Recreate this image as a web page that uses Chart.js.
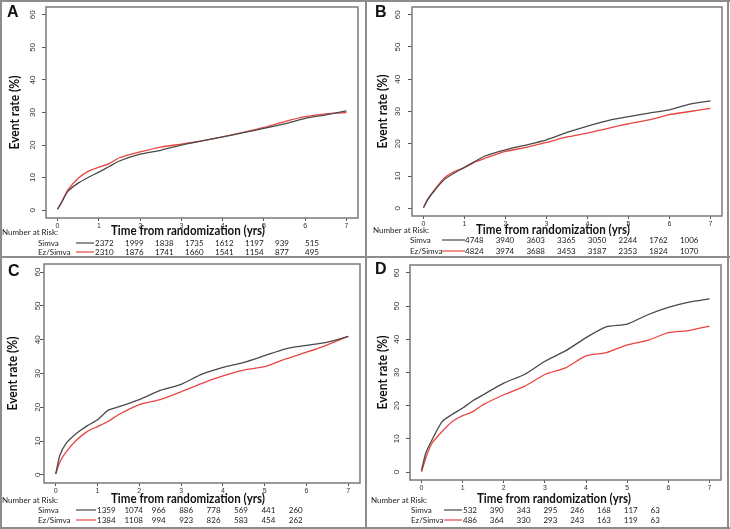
<!DOCTYPE html>
<html>
<head>
<meta charset="utf-8">
<script src="https://cdn.jsdelivr.net/npm/chart.js@4.4.0/dist/chart.umd.min.js"></script>
<style>
  body { margin: 0; background: #fff; }
  #wrap { position: relative; width: 730px; height: 529px; overflow: hidden; background: #fff; }
  #wrap canvas { position: absolute; }
  .frame { position: absolute; background: #8c8c8c; }
</style>
</head>
<body>
<div id="wrap">
  <canvas id="panelA" width="366" height="257" style="left:0;top:0"></canvas>
  <canvas id="panelB" width="364" height="257" style="left:366px;top:0"></canvas>
  <canvas id="panelC" width="366" height="272" style="left:0;top:257px"></canvas>
  <canvas id="panelD" width="364" height="272" style="left:366px;top:257px"></canvas>
  <div class="frame" style="left:0;top:0;width:730px;height:2px"></div>
  <div class="frame" style="left:0;top:527px;width:730px;height:2px"></div>
  <div class="frame" style="left:0;top:0;width:2px;height:529px"></div>
  <div class="frame" style="left:727px;top:0;width:2px;height:529px"></div>
  <div class="frame" style="left:365px;top:0;width:2px;height:529px"></div>
  <div class="frame" style="left:0;top:256px;width:730px;height:2px"></div>
</div>
<script>
const timeYrs = [0, 0.1, 0.25, 0.5, 0.75, 1, 1.25, 1.5, 2, 2.5, 3, 3.5, 4, 4.5, 5, 5.5, 6, 6.5, 7];

// event rate (%) per panel
const simvaA   = [0.3, 2.4, 5.8, 8.3, 10.1, 11.7, 13.4, 15.1, 17.2, 18.4, 20.0, 21.3, 22.5, 23.8, 25.1, 26.5, 28.2, 29.3, 30.5];
const ezSimvaA = [0.3, 2.6, 6.2, 9.8, 12.0, 13.2, 14.3, 16.1, 17.9, 19.4, 20.3, 21.3, 22.5, 23.9, 25.4, 27.2, 28.7, 29.6, 30.0];
const simvaB   = [0.2, 2.6, 5.2, 8.8, 10.9, 12.7, 14.5, 16.2, 18.1, 19.6, 21.2, 23.5, 25.5, 27.2, 28.4, 29.5, 30.5, 32.3, 33.3];
const ezSimvaB = [0.2, 2.8, 5.4, 9.3, 11.4, 12.6, 14.3, 15.5, 17.6, 18.9, 20.4, 22.1, 23.3, 24.8, 26.2, 27.4, 29.0, 30.0, 31.0];
const simvaC   = [0.3, 5.8, 9.3, 12.3, 14.5, 16.3, 19.1, 20.1, 22.3, 25.0, 26.8, 29.8, 31.8, 33.3, 35.3, 37.3, 38.3, 39.3, 41.0];
const ezSimvaC = [0.3, 3.8, 6.8, 10.3, 12.8, 14.3, 15.8, 17.8, 20.8, 22.3, 24.6, 27.1, 29.3, 31.0, 32.0, 34.3, 36.3, 38.5, 41.0];
const simvaD   = [0.5, 5.6, 9.6, 15.2, 17.4, 19.3, 21.5, 23.3, 26.8, 29.4, 33.4, 36.5, 40.5, 43.8, 44.6, 47.4, 49.6, 51.2, 52.2];
const ezSimvaD = [0.0, 4.1, 8.6, 12.2, 15.2, 17.0, 18.2, 20.3, 23.3, 25.8, 29.4, 31.4, 35.0, 36.0, 38.3, 39.7, 42.0, 42.6, 44.0];

// number at risk, years 0..7
const riskSimvaA   = [2372, 1999, 1838, 1735, 1612, 1197, 939, 515];
const riskEzSimvaA = [2310, 1876, 1741, 1660, 1541, 1154, 877, 495];
const riskSimvaB   = [4748, 3940, 3603, 3365, 3050, 2244, 1762, 1006];
const riskEzSimvaB = [4824, 3974, 3688, 3453, 3187, 2353, 1824, 1070];
const riskSimvaC   = [1359, 1074, 966, 886, 778, 569, 441, 260];
const riskEzSimvaC = [1384, 1108, 994, 923, 826, 583, 454, 262];
const riskSimvaD   = [532, 390, 343, 295, 246, 168, 117, 63];
const riskEzSimvaD = [486, 364, 330, 293, 243, 163, 119, 63];

const armLabels = ['Simva', 'Ez/Simva'];
const yTicks = [0, 10, 20, 30, 40, 50, 60];
const xTicks = [0, 1, 2, 3, 4, 5, 6, 7];
const yTitle = 'Event rate (%)';
const xTitle = 'Time from randomization (yrs)';
const riskTitle = 'Number at Risk:';

const SIMVA_COLOR = '#4a4a4a';
const EZ_COLOR = '#e8453f';

// layout of each panel (canvas-local pixels)
const panels = [
  { id: 'panelA', letter: 'A', simva: simvaA, ez: ezSimvaA, riskS: riskSimvaA, riskE: riskEzSimvaA,
    w: 366, h: 257, area: { l: 46, t: 7, r: 358, b: 218 }, letterPos: [7, 13], yTitleX: 15, yLabelX: 33,
    xTitlePos: [188, 231], narPos: [2, 232], armX: 38, rowY: [243, 252], line: [76, 94], numX: 95, numDx: 30 },
  { id: 'panelB', letter: 'B', simva: simvaB, ez: ezSimvaB, riskS: riskSimvaB, riskE: riskEzSimvaB,
    w: 364, h: 257, area: { l: 46, t: 7, r: 356, b: 216 }, letterPos: [9, 13], yTitleX: 17, yLabelX: 32,
    xTitlePos: [187, 230], narPos: [7, 230], armX: 44, rowY: [240, 251], line: [76, 99], numX: 99, numDx: 30.7 },
  { id: 'panelC', letter: 'C', simva: simvaC, ez: ezSimvaC, riskS: riskSimvaC, riskE: riskEzSimvaC,
    w: 366, h: 272, area: { l: 44, t: 7, r: 360, b: 226 }, letterPos: [8, 15], yTitleX: 13, yLabelX: 38,
    xTitlePos: [188, 242], narPos: [2, 243], armX: 38, rowY: [253, 263], line: [76, 96], numX: 97, numDx: 27.4 },
  { id: 'panelD', letter: 'D', simva: simvaD, ez: ezSimvaD, riskS: riskSimvaD, riskE: riskEzSimvaD,
    w: 364, h: 272, area: { l: 44, t: 8, r: 355, b: 223 }, letterPos: [9, 13], yTitleX: 17, yLabelX: 31,
    xTitlePos: [188, 242], narPos: [5, 243], armX: 45, rowY: [253, 263], line: [78, 96], numX: 97, numDx: 26.8 }
];

// text squeezed to a given width (the original uses a narrow font)
function fitText(ctx, text, x, y, width) {
  const w = ctx.measureText(text).width;
  const k = Math.min(1, width / w);
  ctx.save();
  ctx.translate(x, y);
  ctx.scale(k, 1);
  ctx.fillText(text, 0, 0);
  ctx.restore();
}

// draws the box, rotated y labels, titles and the number-at-risk table
const kmDecor = {
  id: 'kmDecor',
  afterDraw(chart, args, p) {
    const ctx = chart.ctx;
    const a = chart.chartArea;
    ctx.save();
    ctx.strokeStyle = '#7a7a7a';
    ctx.lineWidth = 1.5;
    ctx.strokeRect(a.left, a.top, a.right - a.left, a.bottom - a.top);

    // y tick labels (rotated like R)
    const ys = chart.scales.y;
    ctx.fillStyle = '#333';
    ctx.font = '8px "Liberation Sans", sans-serif';
    ctx.textAlign = 'center';
    ctx.textBaseline = 'middle';
    yTicks.forEach(v => {
      ctx.save();
      ctx.translate(p.yLabelX, ys.getPixelForValue(v));
      ctx.rotate(-Math.PI / 2);
      ctx.fillText(String(v), 0, 0);
      ctx.restore();
    });

    // y title
    ctx.fillStyle = '#111';
    ctx.font = 'bold 12.5px Lato, sans-serif';
    ctx.save();
    ctx.translate(p.yTitleX, (a.top + a.bottom) / 2);
    ctx.rotate(-Math.PI / 2);
    fitText(ctx, yTitle, 0, 0, 74);
    ctx.restore();

    // x title
    ctx.font = 'bold 13.5px Lato, sans-serif';
    fitText(ctx, xTitle, p.xTitlePos[0], p.xTitlePos[1], 154);

    // panel letter
    ctx.font = 'bold 16px "Liberation Sans", sans-serif';
    ctx.textAlign = 'left';
    ctx.fillText(p.letter, p.letterPos[0], p.letterPos[1]);

    // number at risk table
    ctx.fillStyle = '#1a1a1a';
    ctx.font = '8px Lato, sans-serif';
    fitText(ctx, riskTitle, p.narPos[0], p.narPos[1], 58);
    const rows = [p.riskS, p.riskE];
    const cols = [SIMVA_COLOR, EZ_COLOR];
    rows.forEach((row, r) => {
      const y = p.rowY[r];
      ctx.fillStyle = '#1a1a1a';
      ctx.fillText(armLabels[r], p.armX, y);
      ctx.strokeStyle = cols[r];
      ctx.lineWidth = 1.2;
      ctx.beginPath();
      ctx.moveTo(p.line[0], y);
      ctx.lineTo(p.line[1], y);
      ctx.stroke();
      row.forEach((n, i) => ctx.fillText(String(n), p.numX + i * p.numDx, y));
    });
    ctx.restore();
  }
};

function makePanel(p) {
  const ctx = document.getElementById(p.id).getContext('2d');
  return new Chart(ctx, {
    type: 'line',
    data: {
      datasets: [
        { label: armLabels[0], data: timeYrs.map((t, i) => ({ x: t, y: p.simva[i] })),
          borderColor: SIMVA_COLOR, borderWidth: 1.3, pointRadius: 0, fill: false, tension: 0.2 },
        { label: armLabels[1], data: timeYrs.map((t, i) => ({ x: t, y: p.ez[i] })),
          borderColor: EZ_COLOR, borderWidth: 1.3, pointRadius: 0, fill: false, tension: 0.2 }
      ]
    },
    options: {
      responsive: false,
      animation: false,
      devicePixelRatio: 1,
      layout: { padding: { left: 0, top: p.area.t, right: p.w - p.area.r, bottom: 0 } },
      scales: {
        x: {
          type: 'linear', min: -0.28, max: 7.28,
          afterBuildTicks: s => { s.ticks = xTicks.map(v => ({ value: v })); },
          afterFit: s => { s.height = p.h - p.area.b; },
          border: { display: false },
          grid: { drawOnChartArea: false, drawTicks: true, tickLength: 3, color: '#555' },
          ticks: { color: '#333', font: { size: 7, family: 'Liberation Sans' }, padding: 1, maxRotation: 0 }
        },
        y: {
          type: 'linear', min: -2.4, max: 62.4,
          afterBuildTicks: s => { s.ticks = yTicks.map(v => ({ value: v })); },
          afterFit: s => { s.width = p.area.l; },
          border: { display: false },
          grid: { drawOnChartArea: false, drawTicks: true, tickLength: 4, color: '#555' },
          ticks: { display: false }
        }
      },
      plugins: { legend: { display: false }, tooltip: { enabled: false }, kmDecor: p }
    },
    plugins: [kmDecor]
  });
}

panels.forEach(makePanel);
</script>
</body>
</html>
